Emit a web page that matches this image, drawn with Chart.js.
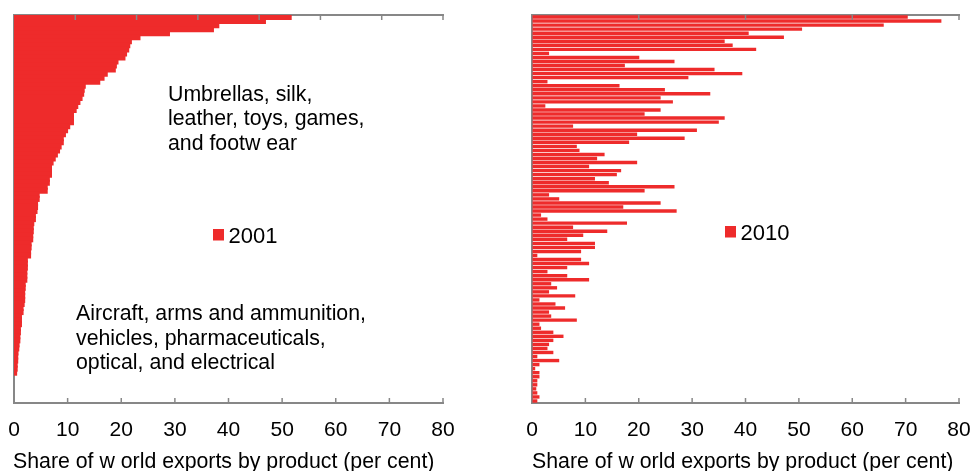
<!DOCTYPE html>
<html>
<head>
<meta charset="utf-8">
<script src="https://cdn.jsdelivr.net/npm/chart.js@4.4.1/dist/chart.umd.min.js"></script>
<style>
  body { margin: 0; background: #fff; }
  #wrap { position: relative; width: 974px; height: 471px; }
  #wrap canvas { position: absolute; top: 0; }
</style>
</head>
<body>
<div id="wrap">
  <canvas id="chart2001" width="487" height="471" style="left:0"></canvas>
  <canvas id="chart2010" width="487" height="471" style="left:487px"></canvas>
</div>
<script>
// shares of world exports by product, ordered by 2001 share (percent)
const share2001 = [
  51.6, 46.8, 38.1, 37.1, 28.9, 23.4, 21.8, 21.5, 21.3, 20.9, 20.6, 19.3,
  19.0, 18.8, 17.3, 16.7, 15.9, 13.2, 13.0, 12.9, 12.6, 12.2, 11.8, 11.5,
  11.0, 11.0, 11.0, 10.3, 9.9, 9.5, 9.1, 9.1, 8.7, 8.4, 8.0, 7.6,
  7.2, 6.9, 6.9, 6.9, 6.5, 6.5, 6.1, 6.1, 4.6, 4.6, 4.3, 4.3,
  4.2, 3.9, 3.9, 3.6, 3.5, 3.5, 3.4, 3.4, 3.1, 3.1, 3.0, 3.0,
  2.4, 2.4, 2.4, 2.3, 2.3, 2.3, 2.0, 2.0, 1.9, 1.9, 1.9, 1.8,
  1.6, 1.6, 1.3, 1.3, 1.3, 1.1, 1.1, 1.0, 1.0, 0.85, 0.8, 0.65,
  0.6, 0.6, 0.5, 0.5, 0.4, 0, 0, 0, 0, 0, 0, 0
];
const share2010 = [
  70.4, 76.7, 65.9, 50.6, 40.6, 47.2, 36.1, 37.6, 42.0, 3.2, 20.1, 26.7,
  17.4, 34.2, 39.4, 29.3, 2.9, 16.4, 24.9, 33.4, 24.1, 26.4, 2.5, 24.1,
  21.1, 36.1, 35.0, 7.7, 30.9, 19.7, 28.6, 18.2, 8.4, 8.9, 13.6, 12.2,
  19.7, 10.7, 16.7, 15.9, 11.8, 14.4, 26.7, 21.1, 3.2, 5.1, 24.1, 17.1,
  27.1, 1.7, 2.9, 17.8, 7.7, 14.1, 9.6, 6.6, 11.8, 11.8, 9.2, 1.0,
  9.2, 10.7, 6.6, 2.9, 6.6, 10.7, 3.6, 4.7, 3.2, 8.1, 1.4, 4.4,
  6.2, 3.2, 3.6, 8.4, 1.4, 1.7, 4.0, 5.9, 4.0, 3.2, 2.9, 4.0,
  1.0, 5.1, 1.4, 0.6, 1.4, 1.4, 1.0, 1.0, 0.8, 1.0, 1.4, 1.0
];
const products = share2001.map((_, i) => 'Product ' + (i + 1));
const xTicks = [0, 10, 20, 30, 40, 50, 60, 70, 80];
const axisTitle = 'Share of w orld exports by product (per cent)';

const RED = '#ee2b2b';
const GREY = '#878787';
const FONT = '"Liberation Sans", Arial, sans-serif';

// ticks drawn on the inside of the frame, plus free text, axis title and legend key
const frameNotes = {
  id: 'frameNotes',
  afterDraw(chart, args, opts) {
    const ctx = chart.ctx;
    const area = chart.chartArea;
    ctx.save();
    ctx.strokeStyle = GREY;
    ctx.lineWidth = 1.5;
    [['x', area.bottom, -1], ['x2', area.top, 1]].forEach(([id, y0, dir]) => {
      const s = chart.scales[id];
      s.ticks.forEach((t, i) => {
        if (i === 0) return;
        const px = s.getPixelForTick(i);
        ctx.beginPath();
        ctx.moveTo(px, y0);
        ctx.lineTo(px, y0 + dir * 5);
        ctx.stroke();
      });
    });

    ctx.fillStyle = '#000';
    ctx.textBaseline = 'alphabetic';
    ctx.textAlign = 'left';

    ctx.font = '21.3px ' + FONT;
    ctx.fillText(axisTitle, area.left + opts.titleShift, 468.3);

    (opts.notes || []).forEach(n => {
      n.lines.forEach((line, i) => ctx.fillText(line, n.x, n.y + i * 24.7));
    });

    const lg = opts.legend;
    if (lg) {
      ctx.fillStyle = chart.data.datasets[0].backgroundColor;
      ctx.fillRect(lg.x, lg.y - 14, 11, 11.5);
      ctx.fillStyle = '#000';
      ctx.font = '22px ' + FONT;
      ctx.fillText(chart.data.datasets[0].label, lg.x + 15.5, lg.y);
    }
    ctx.restore();
  }
};

function makeChart(id, label, values, gap, inflate, topSteps, padLeft, padRight, titleShift, notes, legend) {
  return new Chart(document.getElementById(id), {
    type: 'bar',
    data: {
      labels: products,
      datasets: [{
        label: label,
        data: values,
        backgroundColor: RED,
        borderWidth: 0,
        inflateAmount: c => (c.raw > 0 ? inflate : 0),
        categoryPercentage: 1,
        barPercentage: gap
      }]
    },
    options: {
      indexAxis: 'y',
      responsive: false,
      animation: false,
      devicePixelRatio: 1,
      layout: { padding: { left: padLeft, right: padRight, top: 0, bottom: 0 } },
      plugins: {
        legend: { display: false },
        tooltip: { enabled: false },
        frameNotes: { notes: notes, legend: legend, titleShift: titleShift }
      },
      scales: {
        x: {
          type: 'linear',
          position: 'bottom',
          min: 0,
          max: 80,
          afterBuildTicks: s => { s.ticks = xTicks.map(v => ({ value: v })); },
          ticks: { color: '#000', font: { size: 21, family: FONT }, padding: 0, maxRotation: 0, autoSkip: false },
          grid: { display: true, drawOnChartArea: false, drawTicks: true, tickLength: 15, color: 'rgba(0,0,0,0)' },
          border: { color: GREY, width: 2 },
          afterFit: s => { s.height = 68; }
        },
        x2: {
          type: 'linear',
          position: 'top',
          min: 0,
          max: topSteps,
          ticks: { display: false, stepSize: 1 },
          grid: { display: true, drawOnChartArea: false, drawTicks: false },
          border: { color: GREY, width: 2 },
          afterFit: s => { s.height = 15; }
        },
        y: {
          position: 'left',
          ticks: { display: false },
          grid: { display: true, drawOnChartArea: false, drawTicks: false },
          border: { color: GREY, width: 2 },
          afterFit: s => { s.width = 0; }
        }
      }
    },
    plugins: [frameNotes]
  });
}

makeChart('chart2001', '2001', share2001, 1, 1, 7, 14, 44, -1,
  [
    { x: 168, y: 100.7, lines: ['Umbrellas, silk,', 'leather, toys, games,', 'and footw ear'] },
    { x: 76, y: 320, lines: ['Aircraft, arms and ammunition,', 'vehicles, pharmaceuticals,', 'optical, and electrical'] }
  ],
  { x: 213, y: 243 });

makeChart('chart2010', '2010', share2010, 0.84, 0, 4, 45, 15, 0, [], { x: 238, y: 240 });
</script>
</body>
</html>
